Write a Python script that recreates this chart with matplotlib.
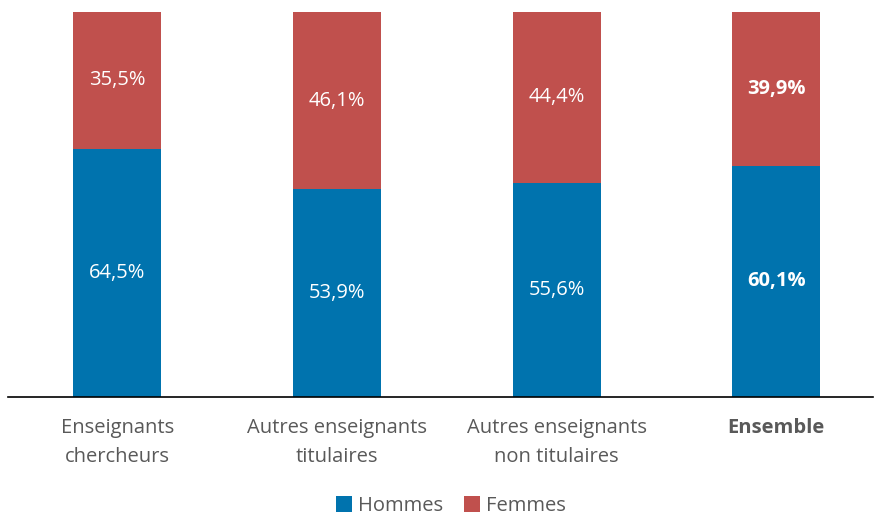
import matplotlib
matplotlib.use("Agg")
import matplotlib.pyplot as plt

categories = ["Enseignants\nchercheurs", "Autres enseignants\ntitulaires",
              "Autres enseignants\nnon titulaires", "Ensemble"]
hommes = [64.5, 53.9, 55.6, 60.1]
femmes = [35.5, 46.1, 44.4, 39.9]
series_names = ["Hommes", "Femmes"]

blue = "#0073AE"
red = "#C0504D"
grey = "#595959"

plt.rcParams['font.family'] = ['Open Sans', 'DejaVu Sans']

fig = plt.figure(figsize=(8.74, 5.15), dpi=100)
ax = fig.add_axes([8/874, 1 - 397/515, (873-8)/874, (397-12)/515])

x = list(range(len(categories)))
w = 0.40
b1 = ax.bar(x, hommes, w, color=blue, label=series_names[0])
b2 = ax.bar(x, femmes, w, bottom=hommes, color=red, label=series_names[1])

fs = 14.5
for i in x:
    bold = 'bold' if i == len(categories) - 1 else 'normal'
    ax.text(i, hommes[i] / 2, f"{hommes[i]:.1f}%".replace('.', ','),
            ha='center', va='center', color='white', fontsize=fs, fontweight=bold)
    ax.text(i, hommes[i] + femmes[i] / 2, f"{femmes[i]:.1f}%".replace('.', ','),
            ha='center', va='center', color='white', fontsize=fs, fontweight=bold)

ax.set_xlim(-0.498, 3.44)
ax.set_ylim(0, 100)
ax.set_yticks([])
ax.set_xticks(x)
ax.set_xticklabels(categories, fontsize=fs, color=grey, linespacing=1.6)
for i, lab in enumerate(ax.get_xticklabels()):
    if i == len(categories) - 1:
        lab.set_fontweight('bold')
ax.tick_params(axis='x', length=0, pad=15)
for s in ['top', 'left', 'right']:
    ax.spines[s].set_visible(False)
ax.spines['bottom'].set_color('black')
ax.spines['bottom'].set_linewidth(1.2)

leg = fig.legend(handles=[b1, b2], labels=series_names, loc='center',
                 bbox_to_anchor=(451/874, 1 - 506/515), ncol=2, frameon=False,
                 fontsize=fs, handlelength=0.8, handleheight=0.8,
                 handletextpad=0.3, columnspacing=1.0)
for t in leg.get_texts():
    t.set_color(grey)

fig.savefig("out.png", dpi=100)
